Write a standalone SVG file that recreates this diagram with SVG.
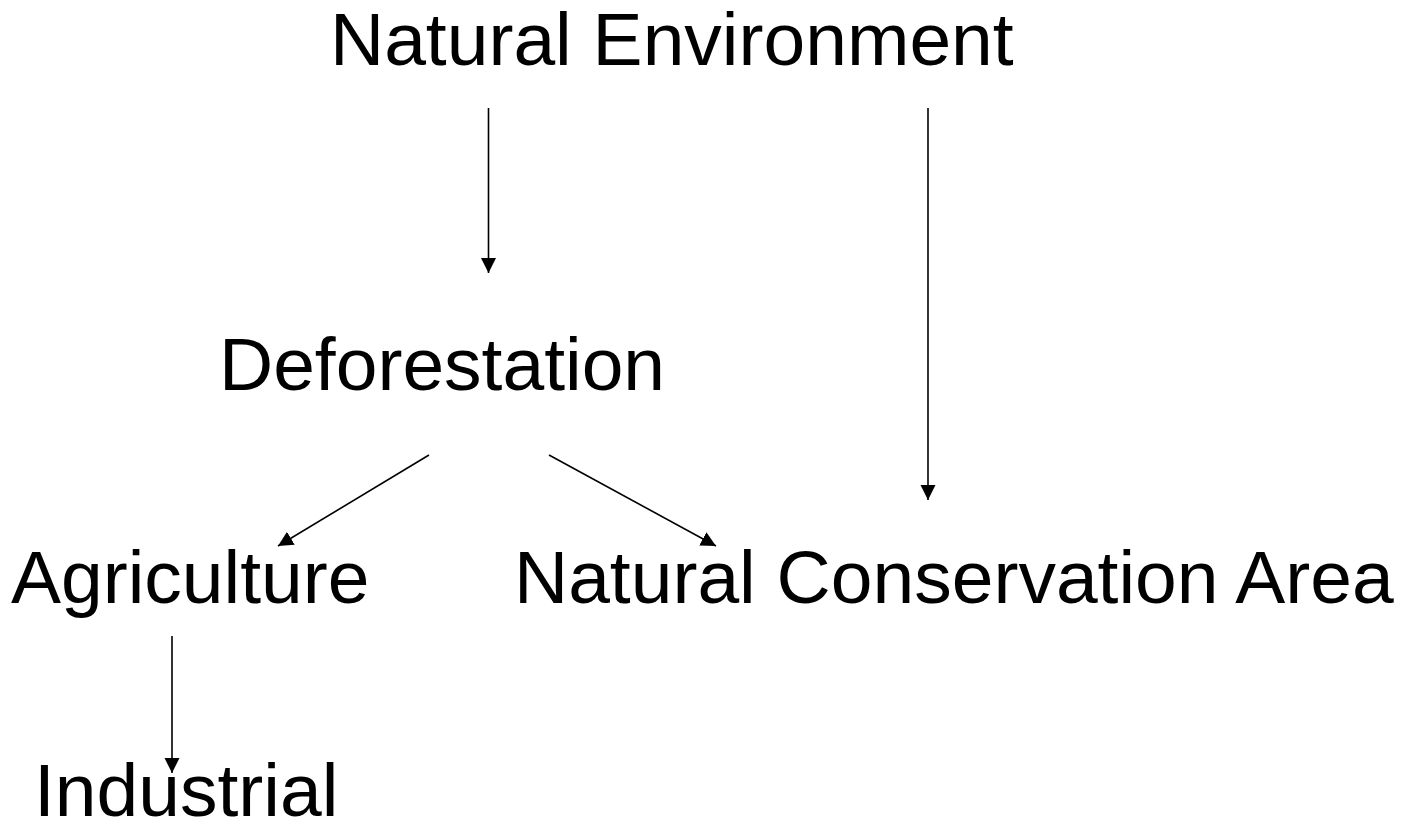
<svg xmlns="http://www.w3.org/2000/svg" width="1410" height="822" viewBox="0 0 1410 822">
<style>
.t{font-family:"Liberation Sans",Arial,sans-serif;font-size:75px;fill:#000}
.c{stroke:#000;stroke-width:1.6;fill:none}
</style>
<defs>
<marker id="ah" markerUnits="userSpaceOnUse" markerWidth="16" markerHeight="16" viewBox="0 0 16 16" refX="15" refY="8" orient="auto">
<path d="M0,0.5 L15,8 L0,15.5 Z" fill="#000"/>
</marker>
</defs>
<rect width="1410" height="822" fill="#fff"/>
<g id="connectors">
<line class="c" x1="488.5" y1="108" x2="488.5" y2="273" marker-end="url(#ah)"/>
<line class="c" x1="928" y1="108" x2="928" y2="500" marker-end="url(#ah)"/>
<line class="c" x1="429" y1="455" x2="278" y2="546" marker-end="url(#ah)"/>
<line class="c" x1="549" y1="455" x2="716" y2="546" marker-end="url(#ah)"/>
<line class="c" x1="172" y1="636" x2="172" y2="773" marker-end="url(#ah)"/>
</g>
<g id="natural-environment"><text class="t" x="330" y="65">Natural Environment</text></g>
<g id="deforestation"><text class="t" x="219" y="390">Deforestation</text></g>
<g id="agriculture"><text class="t" x="11" y="603">Agriculture</text></g>
<g id="natural-conservation-area"><text class="t" x="514" y="603">Natural Conservation Area</text></g>
<g id="industrial"><text class="t" x="34" y="816">Industrial</text></g>
</svg>
